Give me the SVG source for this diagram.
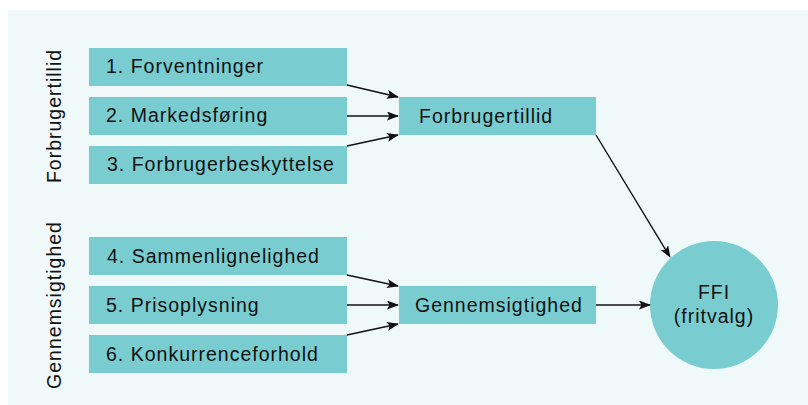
<svg xmlns="http://www.w3.org/2000/svg" width="808" height="405" viewBox="0 0 808 405">
<defs>
<style>
.box{fill:#79cdd0}
.t{font-family:"Liberation Sans",Arial,sans-serif;font-size:19.5px;letter-spacing:1px;fill:#111}
.c{stroke:#111;stroke-width:1.4;fill:none;marker-end:url(#ah)}
</style>
<marker id="ah" markerWidth="12" markerHeight="9" refX="11" refY="4.5" orient="auto" markerUnits="userSpaceOnUse">
<path d="M0,0 L12,4.5 L0,9 L2.5,4.5 Z" fill="#111"/>
</marker>
</defs>
<rect x="8" y="10" width="800" height="395" fill="#f0f9fa"/>
<g id="label-forbrugertillid"><text class="t" transform="translate(61,116) rotate(-90)" text-anchor="middle">Forbrugertillid</text></g>
<g id="label-gennemsigtighed"><text class="t" transform="translate(61,305) rotate(-90)" text-anchor="middle">Gennemsigtighed</text></g>
<g id="n1"><rect class="box" x="89" y="48" width="258" height="38"/><text class="t" x="106" y="73">1. Forventninger</text></g>
<g id="n2"><rect class="box" x="89" y="97" width="258" height="38"/><text class="t" x="106" y="122">2. Markedsføring</text></g>
<g id="n3"><rect class="box" x="89" y="146" width="258" height="38"/><text class="t" x="107" y="171">3. Forbrugerbeskyttelse</text></g>
<g id="n4"><rect class="box" x="89" y="237" width="258" height="38"/><text class="t" x="107" y="263">4. Sammenlignelighed</text></g>
<g id="n5"><rect class="box" x="89" y="286" width="258" height="38"/><text class="t" x="106" y="312">5. Prisoplysning</text></g>
<g id="n6"><rect class="box" x="89" y="335" width="258" height="38"/><text class="t" x="106" y="361">6. Konkurrenceforhold</text></g>
<g id="forbrugertillid"><rect class="box" x="399" y="97" width="197" height="38"/><text class="t" x="419" y="123">Forbrugertillid</text></g>
<g id="gennemsigtighed"><rect class="box" x="399" y="286" width="197" height="38"/><text class="t" x="415" y="312">Gennemsigtighed</text></g>
<g id="ffi"><circle class="box" cx="714" cy="305" r="64"/><text class="t" x="714" y="299" text-anchor="middle">FFI</text><text class="t" x="714" y="323" text-anchor="middle">(fritvalg)</text></g>
<g id="connectors">
<line class="c" x1="347" y1="85" x2="398" y2="97"/>
<line class="c" x1="347" y1="116" x2="398" y2="116"/>
<line class="c" x1="347" y1="146" x2="398" y2="135"/>
<line class="c" x1="347" y1="275" x2="398" y2="286"/>
<line class="c" x1="347" y1="305" x2="398" y2="305"/>
<line class="c" x1="347" y1="335" x2="398" y2="324"/>
<line class="c" x1="596" y1="135" x2="670" y2="257"/>
<line class="c" x1="596" y1="305" x2="650" y2="305"/>
</g>
</svg>
